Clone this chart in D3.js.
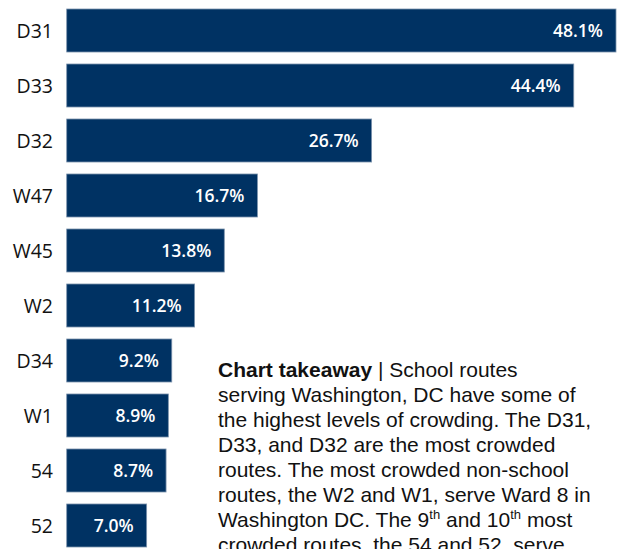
<!DOCTYPE html>
<html>
<head>
<meta charset="utf-8">
<script src="https://cdn.jsdelivr.net/npm/d3@7"></script>
<style>
  body { margin: 0; background: #fff; overflow: hidden; }
  svg { display: block; }
</style>
</head>
<body>
<div id="chart"></div>
<script>
// route names and share of trips crowded
var routes = ["D31", "D33", "D32", "W47", "W45", "W2", "D34", "W1", "54", "52"];
var crowded = [48.1, 44.4, 26.7, 16.7, 13.8, 11.2, 9.2, 8.9, 8.7, 7.0];

var takeawayLines = [
    [{t: "Chart takeaway", b: true}, {t: " | School routes"}],
    [{t: "serving Washington, DC have some of"}],
    [{t: "the highest levels of crowding. The D31,"}],
    [{t: "D33, and D32 are the most crowded"}],
    [{t: "routes. The most crowded non-school"}],
    [{t: "routes, the W2 and W1, serve Ward 8 in"}],
    [{t: "Washington DC. The 9"}, {t: "th", sup: true}, {t: " and 10"}, {t: "th", sup: true}, {t: " most"}],
    [{t: "crowded routes, the 54 and 52, serve"}]
];

var W = 617, H = 549;

var svg = d3.select("#chart")
    .append("svg")
    .attr("width", W)
    .attr("height", H);

// x scale, zero at left edge of bars
var x = d3.scaleLinear()
    .domain([0, 48.1])
    .range([66.7, 616]);

var y = d3.scaleBand()
    .domain(routes)
    .range([9, 547])
    .paddingInner(0.218)
    .paddingOuter(0);

var data = routes.map(function (r, i) {
    return {route: r, value: crowded[i]};
});

var bars = svg.selectAll("g.bar")
    .data(data)
    .enter()
    .append("g")
    .attr("class", "bar");

bars.append("rect")
    .attr("x", x(0))
    .attr("y", function (d) { return y(d.route); })
    .attr("width", function (d) { return x(d.value) - x(0); })
    .attr("height", y.bandwidth())
    .style("fill", "#003263")
    .style("stroke", "#7c93ad")
    .style("stroke-width", 0.8);

bars.append("text")
    .attr("x", function (d) { return x(d.value) - 13; })
    .attr("y", function (d) { return y(d.route) + y.bandwidth() / 2; })
    .attr("dy", "0.36em")
    .attr("text-anchor", "end")
    .style("font-family", "'Open Sans', sans-serif")
    .style("font-weight", 600)
    .style("font-size", "17.5px")
    .style("fill", "#fff")
    .text(function (d) { return d.value.toFixed(1) + "%"; });

// category axis
var yAxis = svg.append("g")
    .attr("transform", "translate(53,0)")
    .call(d3.axisLeft(y).tickSize(0).tickPadding(0));
yAxis.select(".domain").remove();
yAxis.selectAll("text")
    .attr("dy", "0.36em")
    .style("font-family", "'Open Sans', sans-serif")
    .style("font-size", "19.5px")
    .style("fill", "#111");

// takeaway text
var note = svg.append("text")
    .attr("x", 218)
    .attr("y", 377)
    .style("font-family", "'Liberation Sans', Arial, sans-serif")
    .style("font-size", "21px")
    .style("fill", "#111");

takeawayLines.forEach(function (line, i) {
    line.forEach(function (seg, j) {
        var ts = note.append("tspan").text(seg.t);
        if (j === 0) ts.attr("x", 218).attr("y", 377 + i * 25);
        if (seg.b) ts.style("font-weight", "bold");
        if (seg.sup) ts.style("font-size", "13px").attr("dy", "-0.6em");
        else if (j > 0 && line[j - 1].sup) ts.attr("dy", "0.37em");
    });
});
</script>
</body>
</html>
